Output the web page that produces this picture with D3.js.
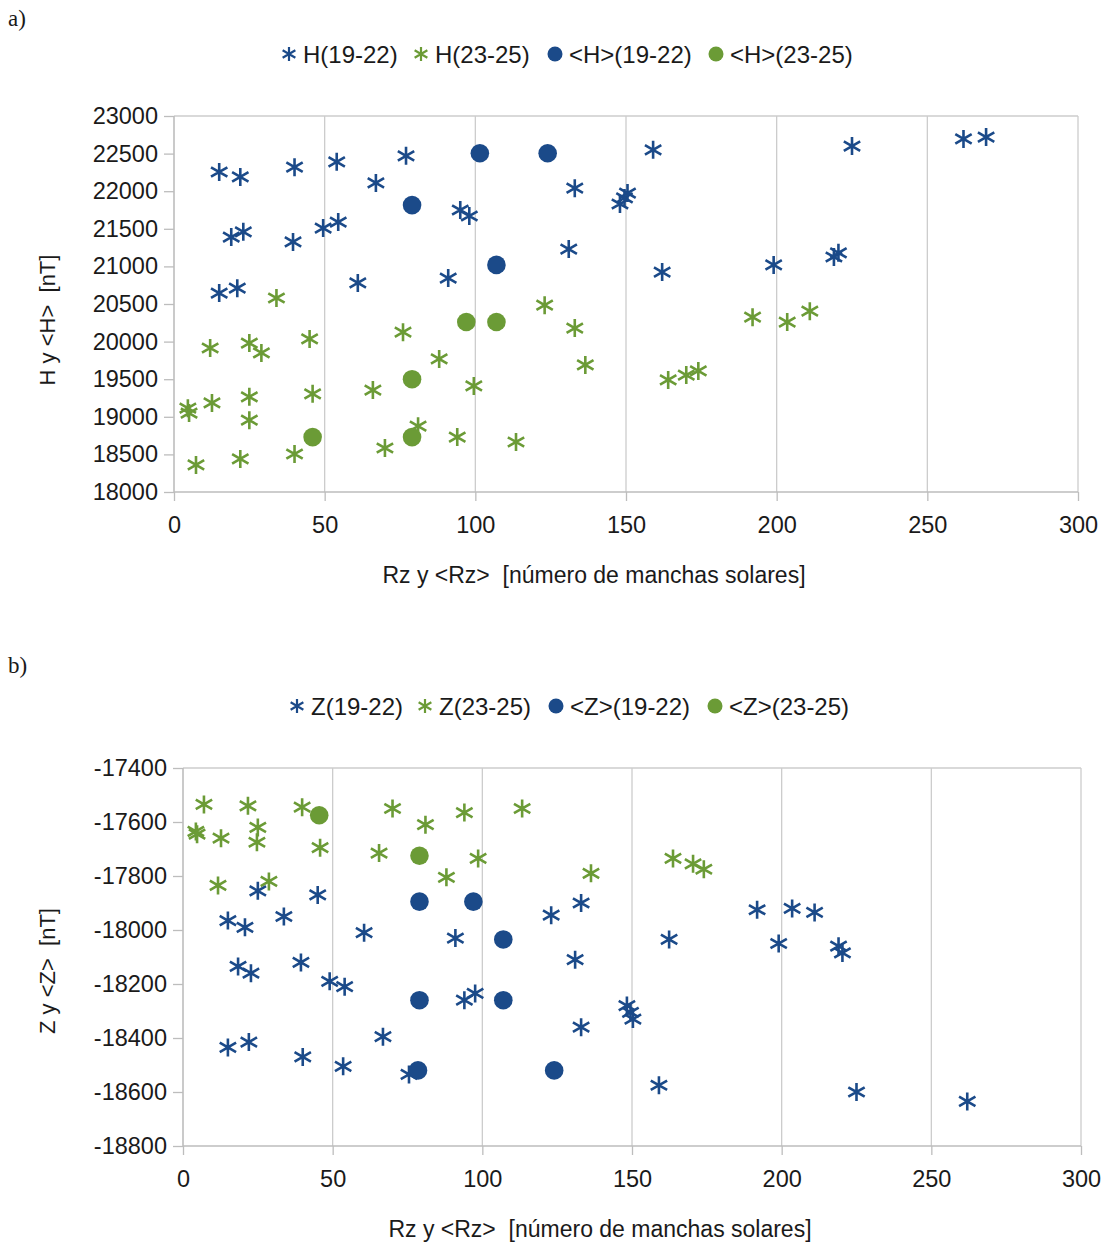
<!DOCTYPE html>
<html>
<head>
<meta charset="utf-8">
<script src="https://cdn.jsdelivr.net/npm/d3@7"></script>
<style>
  html, body { margin: 0; padding: 0; background: #fff; }
  svg { display: block; }
  text { font-family: "Liberation Sans", Arial, sans-serif; fill: #1a1a1a; }
</style>
</head>
<body>
<svg id="fig" width="1105" height="1243"></svg>
<script>
// Panel a) horizontal component H versus sunspot number Rz
const hCycles1922 = [
  [15, 22255], [22, 22190], [40, 22320], [54, 22390], [77, 22470], [67, 22110],
  [95, 21750], [98, 21670], [19, 21390], [23, 21460], [39.5, 21325], [49.5, 21510],
  [54.5, 21590], [15, 20645], [21, 20710], [61, 20780], [91, 20845], [133, 22040],
  [148, 21830], [149.5, 21910], [150.5, 21975], [131, 21230], [162, 20925], [159, 22550],
  [225, 22600], [199, 21020], [219, 21125], [220.5, 21180], [262, 22695], [269.5, 22720]
];
const hCycles2325 = [
  [34, 20580], [12, 19915], [25, 19980], [29, 19850], [45, 20035], [76, 20125],
  [88, 19770], [66, 19355], [4.6, 19115], [5, 19050], [12.6, 19185], [25, 19265],
  [25, 18955], [46, 19305], [81, 18875], [94, 18730], [7.3, 18360], [22, 18440],
  [40, 18505], [70, 18585], [123, 20485], [133, 20180], [136.5, 19690], [99.5, 19410],
  [113.5, 18665], [164, 19490], [170, 19555], [174, 19610], [192, 20325], [203.5, 20260],
  [211, 20405]
];
const hMeans1922 = [[79, 21815], [101.5, 22505], [124, 22505], [107, 21020]];
const hMeans2325 = [[46, 18730], [79, 19500], [79, 18730], [97, 20260], [107, 20260]];

// Panel b) vertical component Z versus sunspot number Rz
const zCycles1922 = [
  [25, -17855], [45, -17870], [15, -17965], [20.7, -17990], [33.7, -17950], [60.5, -18010],
  [91, -18030], [18.4, -18135], [22.7, -18160], [39.4, -18120], [49, -18190], [54, -18210],
  [66.8, -18395], [15, -18435], [22, -18415], [40, -18470], [53.5, -18505], [75.5, -18535],
  [94, -18260], [97.6, -18235], [123, -17945], [133, -17900], [131, -18110], [162.4, -18035],
  [148.3, -18280], [149.5, -18305], [150.3, -18330], [133, -18360], [159, -18575],
  [191.8, -17925], [203.5, -17920], [211, -17935], [199, -18050], [219, -18060],
  [220.3, -18085], [225, -18600], [262, -18635]
];
const zCycles2325 = [
  [7, -17535], [21.7, -17540], [39.8, -17545], [4.3, -17635], [4.7, -17645], [12.7, -17660],
  [25, -17620], [24.7, -17675], [45.8, -17695], [11.7, -17835], [28.7, -17820], [70, -17550],
  [81, -17610], [94, -17565], [65.5, -17715], [88, -17805], [98.6, -17735], [113.3, -17550],
  [136.3, -17790], [163.7, -17735], [170.4, -17755], [174, -17775]
];
const zMeans1922 = [[79, -17895], [97, -17895], [107, -18035], [107, -18260], [79, -18260],
  [78.5, -18520], [124, -18520]];
const zMeans2325 = [[45.5, -17575], [79, -17725]];

// Axis ticks
const rzTicks = [0, 50, 100, 150, 200, 250, 300];
const hTicks = [18000, 18500, 19000, 19500, 20000, 20500, 21000, 21500, 22000, 22500, 23000];
const zTicks = [-18800, -18600, -18400, -18200, -18000, -17800, -17600, -17400];

// Labels
const hLegend = ["H(19-22)", "H(23-25)", "<H>(19-22)", "<H>(23-25)"];
const zLegend = ["Z(19-22)", "Z(23-25)", "<Z>(19-22)", "<Z>(23-25)"];
const xTitle = "Rz y <Rz>  [número de manchas solares]";

const BLUE = "#1b4a89";
const GREEN = "#6b9b36";
const GRID = "#cccccc";

const svg = d3.select("#fig");

function asteriskPath(h) {
  const c = Math.cos(Math.PI / 6) * h * 1.05, s = Math.sin(Math.PI / 6) * h * 1.05;
  return `M0,${-h}L0,${h}M${-c},${-s}L${c},${s}M${-c},${s}L${c},${-s}`;
}

// plain hyphen-minus for negative tick values
const plainNumber = d => String(d).replace("\u2212", "-");

function drawPanel(cfg) {
  const g = svg.append("g");
  const x = d3.scaleLinear().domain([0, 300]).range([cfg.left, cfg.right]);
  const y = d3.scaleLinear().domain(cfg.yDomain).range([cfg.bottom, cfg.top]);

  // panel letter
  g.append("text").attr("x", 8).attr("y", cfg.letterY)
    .style("font-family", "'Liberation Serif', 'Times New Roman', serif")
    .style("font-size", "23px").text(cfg.letter);

  // vertical grid lines and frame
  g.append("g").selectAll("line").data(rzTicks.slice(1)).join("line")
    .attr("x1", d => x(d)).attr("x2", d => x(d))
    .attr("y1", cfg.top).attr("y2", cfg.bottom)
    .attr("stroke", GRID).attr("stroke-width", 1.3);
  g.append("line").attr("x1", cfg.left).attr("x2", cfg.right)
    .attr("y1", cfg.top).attr("y2", cfg.top)
    .attr("stroke", GRID).attr("stroke-width", 1.3);

  // axes
  const xAxis = d3.axisBottom(x).tickValues(rzTicks).tickSize(9).tickPadding(15).tickFormat(plainNumber);
  const yAxis = d3.axisLeft(y).tickValues(cfg.yTicks).tickSize(10).tickPadding(6).tickFormat(plainNumber);
  const gx = g.append("g").attr("transform", `translate(0,${cfg.bottom})`).call(xAxis);
  const gy = g.append("g").attr("transform", `translate(${cfg.left},0)`).call(yAxis);
  [gx, gy].forEach(a => {
    a.select(".domain").attr("stroke", "#bdbdbd").attr("stroke-width", 1.6);
    a.selectAll(".tick line").attr("stroke", "#bdbdbd").attr("stroke-width", 1.3);
    a.selectAll(".tick text").style("font-size", "23.5px").style("font-family", "'Liberation Sans', Arial, sans-serif").attr("fill", "#1a1a1a");
  });
  gx.select(".domain").attr("d", `M${cfg.left},0H${cfg.right}`);
  gy.select(".domain").attr("d", `M0,${cfg.bottom}V${cfg.top}`);

  // axis titles
  g.append("text").attr("text-anchor", "middle")
    .attr("x", (cfg.left + cfg.right) / 2 - 32).attr("y", cfg.bottom + 91)
    .style("font-size", "23px").style("white-space", "pre").text(xTitle);
  g.append("text").attr("text-anchor", "middle")
    .attr("transform", `translate(55,${(cfg.top + cfg.bottom) / 2 + cfg.yTitleShift}) rotate(-90)`)
    .style("font-size", "22px").style("white-space", "pre").text(cfg.yTitle);

  // series
  const star = asteriskPath(9);
  const stars = (data, color) => g.append("g").selectAll("path").data(data).join("path")
    .attr("d", star)
    .attr("transform", d => `translate(${x(d[0])},${y(d[1])})`)
    .attr("fill", "none").attr("stroke", color).attr("stroke-width", 2.6);
  const dots = (data, color) => g.append("g").selectAll("circle").data(data).join("circle")
    .attr("cx", d => x(d[0])).attr("cy", d => y(d[1])).attr("r", 9.3)
    .attr("fill", color);

  stars(cfg.s1, BLUE);
  stars(cfg.s2, GREEN);
  dots(cfg.m1, BLUE);
  dots(cfg.m2, GREEN);

  // legend
  const lg = g.append("g");
  const legendMarks = ["star", "star", "dot", "dot"];
  const legendColors = [BLUE, GREEN, BLUE, GREEN];
  cfg.legend.forEach((label, i) => {
    const mx = cfg.legendX[i];
    if (legendMarks[i] === "star") {
      lg.append("path").attr("d", asteriskPath(7))
        .attr("transform", `translate(${mx},${cfg.legendY})`)
        .attr("fill", "none").attr("stroke", legendColors[i]).attr("stroke-width", 2.2);
    } else {
      lg.append("circle").attr("cx", mx).attr("cy", cfg.legendY).attr("r", 7.5)
        .attr("fill", legendColors[i]);
    }
    lg.append("text").attr("x", mx + 14).attr("y", cfg.legendY + 8.5)
      .style("font-size", "24px").text(label);
  });
}

drawPanel({
  letter: "a)", letterY: 26,
  left: 174, right: 1078, top: 116, bottom: 492,
  yDomain: [18000, 23000], yTicks: hTicks,
  yTitle: "H y <H>  [nT]", yTitleShift: 16,
  s1: hCycles1922, s2: hCycles2325, m1: hMeans1922, m2: hMeans2325,
  legend: hLegend, legendX: [289, 421, 555, 716], legendY: 54
});

drawPanel({
  letter: "b)", letterY: 673,
  left: 183, right: 1081, top: 768, bottom: 1146,
  yDomain: [-18800, -17400], yTicks: zTicks,
  yTitle: "Z y <Z>  [nT]", yTitleShift: 14,
  s1: zCycles1922, s2: zCycles2325, m1: zMeans1922, m2: zMeans2325,
  legend: zLegend, legendX: [297, 425, 556, 715], legendY: 706
});
</script>
</body>
</html>
